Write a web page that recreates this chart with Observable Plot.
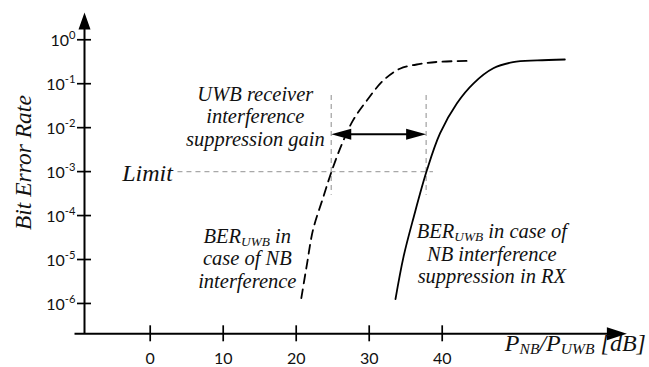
<!DOCTYPE html>
<html><head><meta charset="utf-8">
<script src="https://cdn.jsdelivr.net/npm/d3@7"></script>
<script src="https://cdn.jsdelivr.net/npm/@observablehq/plot@0.6"></script>
<style>body{margin:0;background:#fff}</style>
</head><body><div id="chart"></div>
<script>
// ---- data ----
const dashedDB  = [20.7, 21.5, 22.3, 23.7, 24.9, 26.3, 27.8, 29.7, 31.9, 34.2, 37.0, 39.7, 43.8];
const dashedBER = [1.32e-6, 8.3e-6, 4.7e-5, 2.6e-4, 1.07e-3, 4.4e-3, 0.0148, 0.042, 0.117, 0.219, 0.282, 0.316, 0.331];
const solidDB   = [33.6, 34.7, 36.1, 37.9, 39.7, 42.0, 44.3, 47.0, 49.7, 53.0, 56.8];
const solidBER  = [1.26e-6, 1.15e-5, 9.3e-5, 1.07e-3, 7.4e-3, 0.0355, 0.102, 0.224, 0.309, 0.339, 0.355];
const xTicks = [0, 10, 20, 30, 40];
const yTickExponents = [0, -1, -2, -3, -4, -5, -6];
const xExtent = [-9, 65.3];
const yExtent = [2.04e-7, 4.17];
const limitBER = 1e-3;
const limitSpanDB = [3.8, 38.8];
const gainDB = [24.8, 37.8];
const gainGuideBER = [0.0537, 2.88e-4];
const gainArrowBER = 7.1e-3;
const annotations = [
  {text: "UWB receiver\ninterference\nsuppression gain", x: 14.4, y: 0.0182},
  {text: "BER_{UWB} in\ncase of NB\ninterference", x: 13.3, y: 1.07e-5},
  {text: "BER_{UWB} in case of\nNB interference\nsuppression in RX", x: 46.8, y: 1.38e-5}
];

// ---- arrowhead symbols ----
const headRight = {draw(c){c.moveTo(0,0);c.lineTo(-20,-6.5);c.lineTo(-20,6.5);c.closePath();}};
const headUp = {draw(c){c.moveTo(0,0);c.lineTo(-6,17);c.lineTo(6,17);c.closePath();}};
const gainRight = {draw(c){c.moveTo(0,0);c.lineTo(-20,-5.5);c.lineTo(-20,5.5);c.closePath();}};
const gainLeft = {draw(c){c.moveTo(0,0);c.lineTo(20,-5.5);c.lineTo(20,5.5);c.closePath();}};

const dashed = dashedDB.map((x, i) => ({x, y: dashedBER[i]}));
const solid = solidDB.map((x, i) => ({x, y: solidBER[i]}));
const serif = "'Liberation Serif', 'Times New Roman', Times, 'DejaVu Serif', serif";
const sans = "Lato, 'Open Sans', 'Liberation Sans', sans-serif";

const plot = Plot.plot({
  width: 649, height: 367,
  marginLeft: 84, marginRight: 22.6, marginTop: 12, marginBottom: 33.7,
  x: {domain: xExtent, axis: null},
  y: {type: "log", domain: yExtent, axis: null},
  style: {background: "white", overflow: "visible", color: "black"},
  marks: [
    // gray guides
    Plot.ruleX(gainDB, {x: d => d, y1: gainGuideBER[0], y2: gainGuideBER[1], stroke: "#a8a8a8", strokeWidth: 1.3, strokeDasharray: "5,4"}),
    Plot.ruleY([limitBER], {y: d => d, x1: limitSpanDB[0], x2: limitSpanDB[1], stroke: "#a8a8a8", strokeWidth: 1.3, strokeDasharray: "5,4"}),
    // curves
    Plot.line(dashed, {x: "x", y: "y", curve: "catmull-rom", stroke: "black", strokeWidth: 1.8, strokeDasharray: "9,6"}),
    Plot.line(solid, {x: "x", y: "y", curve: "catmull-rom", stroke: "black", strokeWidth: 1.8}),
    // gain double arrow
    Plot.ruleY([gainArrowBER], {y: d => d, x1: gainDB[0] + 1, x2: gainDB[1] - 1, stroke: "black", strokeWidth: 2}),
    Plot.dot([gainDB[0]], {x: d => d, y: gainArrowBER, symbol: gainLeft, fill: "black", stroke: "none"}),
    Plot.dot([gainDB[1]], {x: d => d, y: gainArrowBER, symbol: gainRight, fill: "black", stroke: "none"}),
    // axes
    Plot.ruleY([yExtent[0]], {y: d => d, x1: -10.3, x2: 63.5, stroke: "black", strokeWidth: 2}),
    Plot.ruleX([xExtent[0]], {x: d => d, y1: yExtent[0], y2: 2.2, stroke: "black", strokeWidth: 2}),
    Plot.dot([xExtent[1]], {x: d => d, y: yExtent[0], symbol: headRight, fill: "black", stroke: "none"}),
    Plot.dot([yExtent[1]], {x: xExtent[0], y: d => d, symbol: headUp, fill: "black", stroke: "none"}),
    Plot.ruleX(xTicks, {x: d => d, y1: yExtent[0], y2: yExtent[0], insetTop: -8, insetBottom: -8, stroke: "black", strokeWidth: 1.7}),
    Plot.ruleY(yTickExponents, {y: e => 10 ** e, x1: xExtent[0], x2: xExtent[0], insetLeft: -7, insetRight: -7, stroke: "black", strokeWidth: 1.7}),
    Plot.text(xTicks, {x: d => d, y: yExtent[0], dy: 25, text: d => String(d), fontFamily: sans, fontSize: 16, fill: "#111"}),
    Plot.text(yTickExponents, {x: xExtent[0], y: e => 10 ** e, dx: -9, dy: 1, textAnchor: "end", text: e => `10^{${e}}`, fontFamily: sans, fontSize: 16, fill: "#111"}),
    // labels
    Plot.text(["Bit Error Rate"], {x: -17.3, y: 1.6e-3, rotate: -90, text: d => d, fontFamily: serif, fontStyle: "italic", fontSize: 23.5, fill: "#111"}),
    Plot.text(["P_{NB}/P_{UWB} [dB]"], {x: 67.9, y: 1.25e-7, textAnchor: "end", text: d => d, fontFamily: serif, fontStyle: "italic", fontSize: 24, fill: "#111"}),
    Plot.text(["Limit"], {x: limitSpanDB[0], y: limitBER, dx: -5, dy: 2, textAnchor: "end", text: d => d, fontFamily: serif, fontStyle: "italic", fontSize: 24, fill: "#111"}),
    Plot.text(annotations, {x: "x", y: "y", text: "text", fontSize: 20.5, lineHeight: 1.1, fontFamily: serif, fontStyle: "italic", fill: "#111"})
  ]
});

// sub/superscripts as real tspans
function richify(svg) {
  const nodes = [...svg.querySelectorAll("text, tspan")].filter(n =>
    n.childNodes.length === 1 && n.firstChild.nodeType === 3 && /[_^]\{/.test(n.textContent));
  for (const n of nodes) {
    const s = n.textContent;
    n.textContent = "";
    const re = /([_^])\{([^}]*)\}/g;
    let last = 0, m;
    while ((m = re.exec(s))) {
      if (m.index > last) n.appendChild(document.createTextNode(s.slice(last, m.index)));
      const t = document.createElementNS("http://www.w3.org/2000/svg", "tspan");
      if (m[1] === "_") { t.setAttribute("style", "baseline-shift:-3px;font-size:65%"); }
      else { t.setAttribute("style", "baseline-shift:7px;font-size:70%"); }
      t.textContent = m[2];
      n.appendChild(t);
      last = re.lastIndex;
    }
    if (last < s.length) n.appendChild(document.createTextNode(s.slice(last)));
  }
}
richify(plot);
document.getElementById("chart").appendChild(plot);
</script>
</body></html>
